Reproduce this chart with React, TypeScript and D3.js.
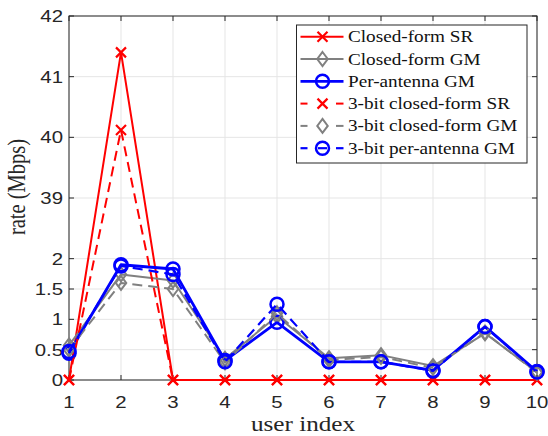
import React from "react";
import * as d3 from "d3";

const users = [1, 2, 3, 4, 5, 6, 7, 8, 9, 10];
const closedFormSR = [0, 41.4, 0, 0, 0, 0, 0, 0, 0, 0];
const closedFormGM = [0.57, 1.74, 1.64, 0.35, 1.05, 0.36, 0.41, 0.23, 0.77, 0.13];
const perAntennaGM = [0.44, 1.9, 1.83, 0.32, 0.95, 0.3, 0.3, 0.16, 0.88, 0.14];
const bit3SR = [0, 40.12, 0, 0, 0, 0, 0, 0, 0, 0];
const bit3GM = [0.5, 1.6, 1.5, 0.29, 1.1, 0.33, 0.38, 0.2, 0.78, 0.12];
const bit3PerAntennaGM = [0.47, 1.88, 1.74, 0.3, 1.25, 0.3, 0.3, 0.15, 0.88, 0.13];

const yTicks = [0, 0.5, 1, 1.5, 2, 39, 40, 41, 42];
const yTickLabels = ["0", "0.5", "1", "1.5", "2", "39", "40", "41", "42"];
const xTickLabels = ["1", "2", "3", "4", "5", "6", "7", "8", "9", "10"];
const seriesNames = [
  "Closed-form SR",
  "Closed-form GM",
  "Per-antenna GM",
  "3-bit closed-form SR",
  "3-bit closed-form GM",
  "3-bit per-antenna GM",
];

const W = 548, H = 436;
const L = 69, R = 537, T = 16, B = 380;
const unit = (B - T) / 6;

const x = d3.scaleLinear().domain([1, 10]).range([L, R]);
const y = d3.scaleLinear().domain([0, 2, 39, 42]).range([B, B - 2 * unit, B - 3 * unit, T]);

type Series = { name: string; values: number[]; color: string; width: number; dashed: boolean; marker: "x" | "d" | "o" };
const series: Series[] = [
  { name: seriesNames[0], values: closedFormSR, color: "#ff0000", width: 2, dashed: false, marker: "x" },
  { name: seriesNames[1], values: closedFormGM, color: "#808080", width: 2, dashed: false, marker: "d" },
  { name: seriesNames[2], values: perAntennaGM, color: "#0000ff", width: 2.8, dashed: false, marker: "o" },
  { name: seriesNames[3], values: bit3SR, color: "#ff0000", width: 2, dashed: true, marker: "x" },
  { name: seriesNames[4], values: bit3GM, color: "#808080", width: 2, dashed: true, marker: "d" },
  { name: seriesNames[5], values: bit3PerAntennaGM, color: "#0000ff", width: 2.2, dashed: true, marker: "o" },
];

function Marker({ kind, cx, cy, color }: { kind: string; cx: number; cy: number; color: string }) {
  if (kind === "x") {
    const s = 5;
    return (
      <path d={`M${cx - s},${cy - s}L${cx + s},${cy + s}M${cx - s},${cy + s}L${cx + s},${cy - s}`} stroke={color} strokeWidth={2.2} fill="none" />
    );
  }
  if (kind === "d") {
    const s = 7;
    return (
      <path d={`M${cx},${cy - s}L${cx + s * 0.75},${cy}L${cx},${cy + s}L${cx - s * 0.75},${cy}Z`} stroke={color} strokeWidth={2} fill="none" />
    );
  }
  return <circle cx={cx} cy={cy} r={6.5} stroke={color} strokeWidth={2.5} fill="none" />;
}

const SX = 1.2;

export default function App() {
  const line = d3.line<number>().x((_, i) => x(users[i])).y((d) => y(d));
  const axisColor = "#262626";
  const legendRowY = (i: number) => 36.7 + i * 22.3;
  return (
    <svg width={W} height={H} style={{ position: "absolute", left: 0, top: 0, background: "#fff" }}>
      <rect x={0} y={0} width={W} height={H} fill="#fff" />
      {/* grid */}
      {users.map((u) => (
        <line key={"gx" + u} x1={x(u)} x2={x(u)} y1={T} y2={B} stroke="#e5e5e5" strokeWidth={1} />
      ))}
      {yTicks.map((t) => (
        <line key={"gy" + t} x1={L} x2={R} y1={y(t)} y2={y(t)} stroke="#e5e5e5" strokeWidth={1} />
      ))}
      {/* axes box */}
      <rect x={L} y={T} width={R - L} height={B - T} fill="none" stroke={axisColor} strokeWidth={1} />
      {users.map((u) => (
        <g key={"tx" + u}>
          <line x1={x(u)} x2={x(u)} y1={B} y2={B - 5} stroke={axisColor} />
          <line x1={x(u)} x2={x(u)} y1={T} y2={T + 5} stroke={axisColor} />
        </g>
      ))}
      {yTicks.map((t) => (
        <g key={"ty" + t}>
          <line x1={L} x2={L + 5} y1={y(t)} y2={y(t)} stroke={axisColor} />
          <line x1={R} x2={R - 5} y1={y(t)} y2={y(t)} stroke={axisColor} />
        </g>
      ))}
      {/* tick labels */}
      {yTicks.map((t, i) => (
        <text key={"yl" + t} transform={`translate(${L - 6},${y(t) + 6}) scale(${SX},1)`} textAnchor="end"
          fontFamily="Liberation Sans, Arial, sans-serif" fontSize={17} fill={axisColor}>
          {yTickLabels[i]}
        </text>
      ))}
      {users.map((u, i) => (
        <text key={"xl" + u} transform={`translate(${x(u)},${408}) scale(${SX},1)`} textAnchor="middle"
          fontFamily="Liberation Sans, Arial, sans-serif" fontSize={17} fill={axisColor}>
          {xTickLabels[i]}
        </text>
      ))}
      {/* axis labels */}
      <text transform={`translate(${303},${431}) scale(${SX},1)`} textAnchor="middle"
        fontFamily="Liberation Serif, Times New Roman, serif" fontSize={21} fill={axisColor}>
        user index
      </text>
      <text transform={`translate(${25},${187}) scale(${SX},1) rotate(-90)`} textAnchor="middle"
        fontFamily="Liberation Serif, Times New Roman, serif" fontSize={20.5} fill={axisColor}>
        rate (Mbps)
      </text>
      {/* series */}
      <g>
        {series.map((s) => (
          <g key={s.name}>
            <path d={line(s.values) || ""} fill="none" stroke={s.color} strokeWidth={s.width}
              strokeDasharray={s.dashed ? "10,6" : undefined} strokeLinejoin="round" />
            {s.values.map((v, i) => (
              <Marker key={i} kind={s.marker} cx={x(users[i])} cy={y(v)} color={s.color} />
            ))}
          </g>
        ))}
      </g>
      {/* legend */}
      <rect x={296.5} y={25} width={230.5} height={138} fill="#fff" stroke={axisColor} strokeWidth={1} />
      {series.map((s, i) => {
        const ly = legendRowY(i);
        return (
          <g key={"lg" + i}>
            {s.dashed ? (
              <>
                <line x1={300.5} x2={307.5} y1={ly} y2={ly} stroke={s.color} strokeWidth={s.width} />
                <line x1={336} x2={343.5} y1={ly} y2={ly} stroke={s.color} strokeWidth={s.width} />
                {s.marker === "o" && (
                  <line x1={318} x2={327} y1={ly} y2={ly} stroke={s.color} strokeWidth={s.width} />
                )}
              </>
            ) : (
              <line x1={300.5} x2={343.5} y1={ly} y2={ly} stroke={s.color} strokeWidth={s.width} />
            )}
            <Marker kind={s.marker} cx={322.5} cy={ly} color={s.color} />
            <text transform={`translate(${348},${ly + 5.5}) scale(${SX},1)`} fontFamily="Liberation Serif, Times New Roman, serif"
              fontSize={16} fill="#111">
              {s.name}
            </text>
          </g>
        );
      })}
    </svg>
  );
}
